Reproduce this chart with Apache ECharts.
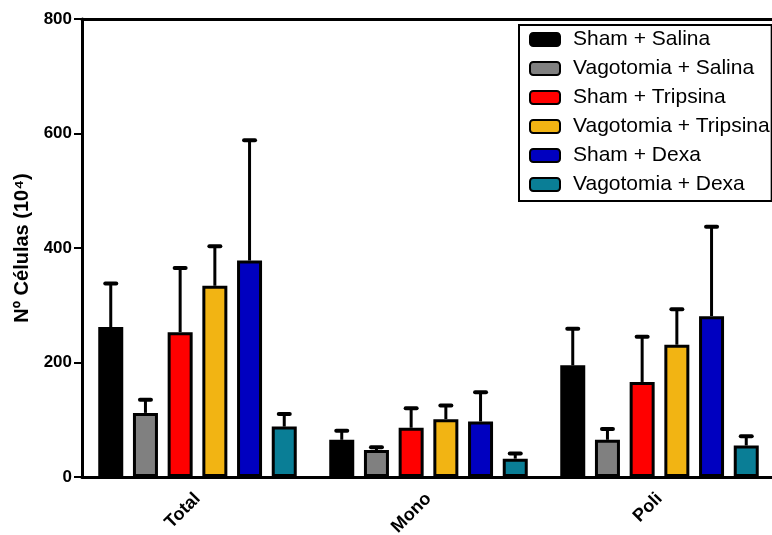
<!DOCTYPE html>
<html>
<head>
<meta charset="utf-8">
<script src="https://cdn.jsdelivr.net/npm/echarts@6/dist/echarts.min.js"></script>
<style>
  html, body { margin: 0; padding: 0; background: #fff; }
  #chart { width: 772px; height: 535px; }
</style>
</head>
<body>
<div id="chart"></div>
<script>
// Cell counts (x10^4): group means and standard deviations per treatment
const categories = ['Total', 'Mono', 'Poli'];
const groupNames = [
  'Sham + Salina',
  'Vagotomia + Salina',
  'Sham + Tripsina',
  'Vagotomia + Tripsina',
  'Sham + Dexa',
  'Vagotomia + Dexa'
];
const shamSalina      = [262, 65, 195];
const shamSalinaSd    = [76, 16, 64];
const vagoSalina      = [112, 47, 65];
const vagoSalinaSd    = [23, 5, 19];
const shamTripsina    = [253, 86, 166];
const shamTripsinaSd  = [112, 34, 79];
const vagoTripsina    = [334, 101, 231];
const vagoTripsinaSd  = [69, 24, 62];
const shamDexa        = [378, 97, 281];
const shamDexaSd      = [210, 51, 156];
const vagoDexa        = [88, 32, 55];
const vagoDexaSd      = [22, 9, 16];
const yTicks = [0, 200, 400, 600, 800];

const means = [shamSalina, vagoSalina, shamTripsina, vagoTripsina, shamDexa, vagoDexa];
const sds = [shamSalinaSd, vagoSalinaSd, shamTripsinaSd, vagoTripsinaSd, shamDexaSd, vagoDexaSd];
const colors = ['#000000', '#808080', '#ff0000', '#f2b413', '#0000c0', '#0a7e96'];

const FONT = '"Liberation Sans", Arial, sans-serif';
const BAR_W = 25;
const PITCH = 34.7;
const BAR_GAP = PITCH / BAR_W - 1;

const barSeries = groupNames.map((name, i) => ({
  name,
  type: 'bar',
  data: means[i],
  barWidth: BAR_W,
  barGap: (BAR_GAP * 100).toFixed(1) + '%',
  itemStyle: { color: colors[i], borderColor: '#000', borderWidth: 3 },
  z: 3
}));

// Upper error bars (mean + SD) with a cap, drawn at each bar's offset
const errSeries = groupNames.map((name, i) => ({
  name: name + ' SD',
  type: 'custom',
  z: 2,
  data: categories.map((c, k) => [k, means[i][k], means[i][k] + sds[i][k]]),
  renderItem(params, api) {
    const base = api.coord([api.value(0), api.value(1)]);
    const tip = api.coord([api.value(0), api.value(2)]);
    const x = base[0] + (i - (groupNames.length - 1) / 2) * PITCH;
    return {
      type: 'group',
      children: [
        { type: 'line', shape: { x1: x, y1: base[1], x2: x, y2: tip[1] },
          style: { stroke: '#000', lineWidth: 3 } },
        { type: 'line', shape: { x1: x - 5.5, y1: tip[1], x2: x + 5.5, y2: tip[1] },
          style: { stroke: '#000', lineWidth: 4, lineCap: 'round' } }
      ]
    };
  }
}));

const chart = echarts.init(document.getElementById('chart'), null, { renderer: 'canvas' });
chart.setOption({
  animation: false,
  backgroundColor: '#fff',
  textStyle: { fontFamily: FONT },
  grid: { left: 82, top: 19, width: 693, height: 458, containLabel: false, outerBoundsMode: 'none' },
  legend: {
    data: groupNames,
    orient: 'vertical',
    left: 519,
    top: 25,
    backgroundColor: '#fff',
    borderColor: '#000',
    borderWidth: 2,
    borderRadius: 0,
    padding: [4, 2, 6, 10],
    itemWidth: 30,
    itemHeight: 13,
    itemGap: 8,
    icon: 'roundRect',
    textStyle: { fontFamily: FONT, fontSize: 21, color: '#000', padding: [0, 0, 0, 8] }
  },
  xAxis: [
    {
      type: 'category',
      data: categories,
      axisLine: { lineStyle: { color: '#000', width: 3 } },
      axisTick: { alignWithLabel: true, length: 7, lineStyle: { color: '#000', width: 2 } },
      axisLabel: { rotate: 45, margin: 19, fontFamily: FONT, fontWeight: 'bold', fontSize: 18, color: '#000' }
    },
    {
      type: 'category',
      position: 'top',
      data: categories,
      axisLine: { lineStyle: { color: '#000', width: 3 } },
      axisTick: { show: false },
      axisLabel: { show: false }
    }
  ],
  yAxis: {
    type: 'value',
    min: yTicks[0],
    max: yTicks[yTicks.length - 1],
    interval: yTicks[1] - yTicks[0],
    name: 'Nº Células (10⁴)',
    nameLocation: 'middle',
    nameGap: 50,
    nameRotate: 90,
    nameTextStyle: { fontFamily: FONT, fontWeight: 'bold', fontSize: 20, color: '#000' },
    axisLine: { show: true, lineStyle: { color: '#000', width: 3 } },
    axisTick: { show: true, length: 8, lineStyle: { color: '#000', width: 2 } },
    axisLabel: { margin: 10, fontFamily: FONT, fontWeight: 'bold', fontSize: 17, color: '#000' },
    splitLine: { show: false }
  },
  series: [...barSeries, ...errSeries]
});
</script>
</body>
</html>
